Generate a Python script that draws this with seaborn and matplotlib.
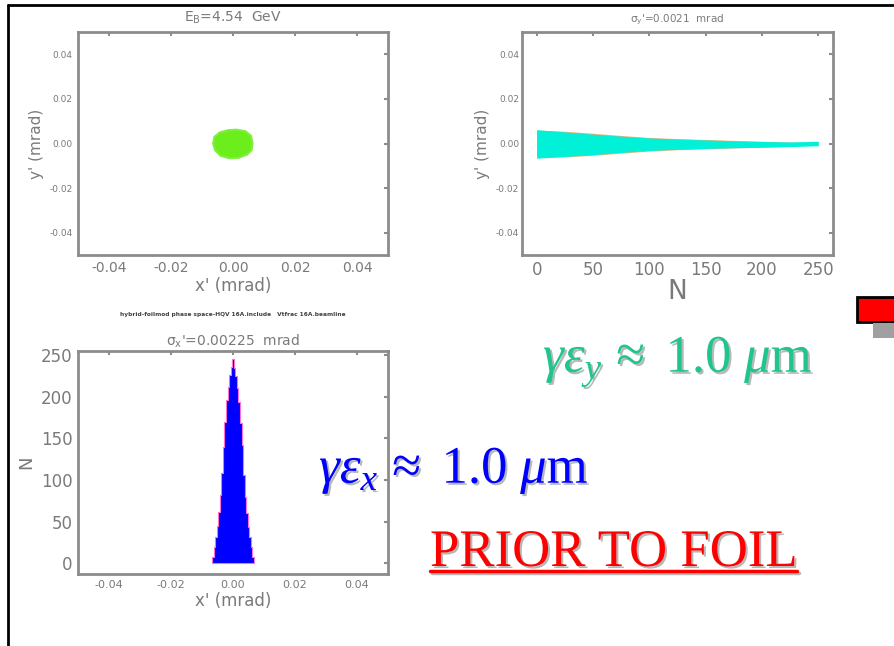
import numpy as np
import seaborn as sns
import matplotlib.pyplot as plt
import matplotlib.patheffects as pe
from matplotlib.lines import Line2D
from matplotlib.patches import Rectangle

# x'-y' beam spot outline (mrad)
blob_x = [0.0063, 0.0058, 0.0040, 0.0012, -0.0015, -0.0042, -0.0060, -0.0064,
          -0.0058, -0.0040, -0.0012, 0.0018, 0.0045, 0.0060]
blob_y = [0.0002, 0.0035, 0.0055, 0.0062, 0.0060, 0.0050, 0.0030, 0.0000,
          -0.0030, -0.0055, -0.0066, -0.0064, -0.0050, -0.0030]

# y' envelope vs turn number N
turns = [0, 25, 50, 75, 100, 125, 150, 175, 200, 225, 250]
env_top = [0.0062, 0.0052, 0.0042, 0.0033, 0.0025, 0.0020, 0.0016, 0.0012, 0.0009, 0.0007, 0.0010]
env_bot = [-0.0066, -0.0058, -0.0050, -0.0040, -0.0031, -0.0026, -0.0022, -0.0019, -0.0017, -0.0014, -0.0010]
orange_top = [0.0060, 0.0055, 0.0046, 0.0036, 0.0027, 0.0022, 0.0018, 0.0014, 0.0010, 0.0006, 0.0002]
orange_bot = [-0.0062, -0.0060, -0.0053, -0.0043, -0.0034, -0.0028, -0.0024, -0.0020, -0.0016, -0.0012, -0.0004]

# x' histogram
hist_centers = [-0.0065, -0.006, -0.0055, -0.005, -0.0045, -0.004, -0.0035, -0.003, -0.0025,
                -0.002, -0.0015, -0.001, -0.0005, 0.0, 0.0005, 0.001, 0.0015, 0.002,
                0.0025, 0.003, 0.0035, 0.004, 0.0045, 0.005, 0.0055, 0.006, 0.0065]
hist_counts = [8, 20, 32, 45, 62, 82, 108, 140, 170, 196, 212, 226, 236, 245, 235, 225, 210,
               194, 168, 142, 106, 80, 60, 44, 31, 19, 7]

angle_ticks = [-0.04, -0.02, 0.0, 0.02, 0.04]
angle_labels = ['-0.04', '-0.02', '0.00', '0.02', '0.04']
turn_ticks = [0, 50, 100, 150, 200, 250]
count_ticks = [0, 50, 100, 150, 200, 250]

sns.set_theme(style="white")
plt.rcParams['font.family'] = ['DejaVu Sans']
plt.rcParams['axes.unicode_minus'] = False
plt.rcParams['mathtext.fontset'] = 'custom'
plt.rcParams['mathtext.rm'] = 'Liberation Serif'
plt.rcParams['mathtext.it'] = 'Liberation Serif:italic'

GRAY = '#8c8c8c'
TXT = '#7a7a7a'

fig = plt.figure(figsize=(8.94, 6.46), dpi=100)
W, H = 894, 646


def box(x0, y0, x1, y1):
    return [x0 / W, 1 - y1 / H, (x1 - x0) / W, (y1 - y0) / H]


def style(ax, tsize):
    for s in ax.spines.values():
        s.set_color(GRAY)
        s.set_linewidth(2)
    ax.tick_params(direction='in', length=3, width=1.5, color=GRAY, top=True, right=True,
                   labelsize=tsize, labelcolor=TXT, pad=4)


ax1 = fig.add_axes(box(78, 32, 388, 255))
ax1.fill(blob_x, blob_y, color='#6cee1c', lw=1.5, ec='#80f040')
ax1.set_xlim(-0.05, 0.05)
ax1.set_ylim(-0.05, 0.05)
ax1.set_xticks(angle_ticks, angle_labels)
ax1.set_yticks(angle_ticks, angle_labels)
style(ax1, 10)
ax1.tick_params(axis='y', labelsize=6.5)
ax1.set_xlabel("x' (mrad)", fontsize=12, color=TXT, labelpad=2)
ax1.set_ylabel("y' (mrad)", fontsize=11, color=TXT, labelpad=4)
ax1.set_title("E$_\\mathregular{B}$=4.54  GeV", fontsize=10, color=TXT, pad=7)

ax2 = fig.add_axes(box(522, 32, 833, 255))
ax2.fill_between(turns, orange_bot, orange_top, color='#f0b070', lw=0)
ax2.fill_between(turns, env_bot, env_top, color='#00f0d8', lw=0)
ax2.set_xlim(-13, 263)
ax2.set_ylim(-0.05, 0.05)
ax2.set_xticks(turn_ticks)
ax2.set_yticks(angle_ticks, angle_labels)
style(ax2, 12)
ax2.tick_params(axis='y', labelsize=6.5, pad=2)
ax2.set_xlabel("N", fontsize=19, color=TXT, labelpad=0)
ax2.set_ylabel("y' (mrad)", fontsize=11, color=TXT, labelpad=4)
ax2.set_title("σ$_\\mathregular{y}$'=0.0021  mrad", fontsize=7.5, color=TXT, pad=7)

ax3 = fig.add_axes(box(78, 351, 388, 574))
edges = np.array(hist_centers) - 0.00025
edges = list(edges) + [hist_centers[-1] + 0.00025]
sns.histplot(x=hist_centers, weights=hist_counts, bins=edges, ax=ax3, element='step',
             fill=True, color='#0000ff', alpha=1, edgecolor='#ff70d0', linewidth=0.8)
ax3.set_xlim(-0.05, 0.05)
ax3.set_ylim(-13, 255)
ax3.set_xticks(angle_ticks, angle_labels)
ax3.set_yticks(count_ticks)
style(ax3, 8)
ax3.tick_params(axis='y', labelsize=12)
ax3.set_xlabel("x' (mrad)", fontsize=12, color=TXT, labelpad=2)
ax3.set_ylabel("N", fontsize=13, color=TXT, labelpad=4)
ax3.set_title("σ$_\\mathregular{x}$'=0.00225  mrad", fontsize=10, color=TXT, pad=4)

fig.text(233 / W, 1 - 314 / H, "hybrid-foilmod phase space-HQV 16A.include   Vtfrac 16A.beamline",
         fontsize=4.2, color='#404040', ha='center', va='center', weight='bold')

shadow = [pe.SimplePatchShadow(offset=(1.5, -1.5), shadow_rgbFace='#b8b8b8', alpha=1), pe.Normal()]
fig.text(543 / W, 1 - 372 / H, r"$\gamma\varepsilon_y\,\approx\ \mathrm{1.0}\ \mu\mathrm{m}$",
         fontsize=38, color='#1ec58f', ha='left', va='baseline', path_effects=shadow)
fig.text(319 / W, 1 - 483 / H, r"$\gamma\varepsilon_x\,\approx\ \mathrm{1.0}\ \mu\mathrm{m}$",
         fontsize=38, color='#0000ff', ha='left', va='baseline', path_effects=shadow)
prior = fig.text(430 / W, 1 - 566 / H, "PRIOR TO FOIL", fontsize=38, color='#ff0000',
                 family='Liberation Serif', ha='left', va='baseline', path_effects=shadow)

# underline under the red caption
fig.canvas.draw()
bb = prior.get_window_extent().transformed(fig.transFigure.inverted())
fig.add_artist(Line2D([bb.x0, bb.x1], [1 - 571 / H] * 2, color='#ff0000', lw=2.5,
                      path_effects=[pe.SimpleLineShadow(offset=(1.5, -1.5), shadow_color='#b8b8b8', alpha=1),
                                    pe.Normal()]))

# slide frame and corner decorations
fig.add_artist(Line2D([8 / W, 1], [1 - 5 / H] * 2, color='black', lw=2))
fig.add_artist(Line2D([8 / W, 8 / W], [0, 1 - 5 / H], color='black', lw=2))
fig.add_artist(Rectangle((857 / W, 1 - 322 / H), 40 / W, 25 / H, fc='#ff0000', ec='black', lw=2))
fig.add_artist(Rectangle((873 / W, 1 - 338 / H), 21 / W, 15 / H, fc='#a0a0a0', ec='none', hatch='....'))

fig.savefig('out.png', dpi=100)
